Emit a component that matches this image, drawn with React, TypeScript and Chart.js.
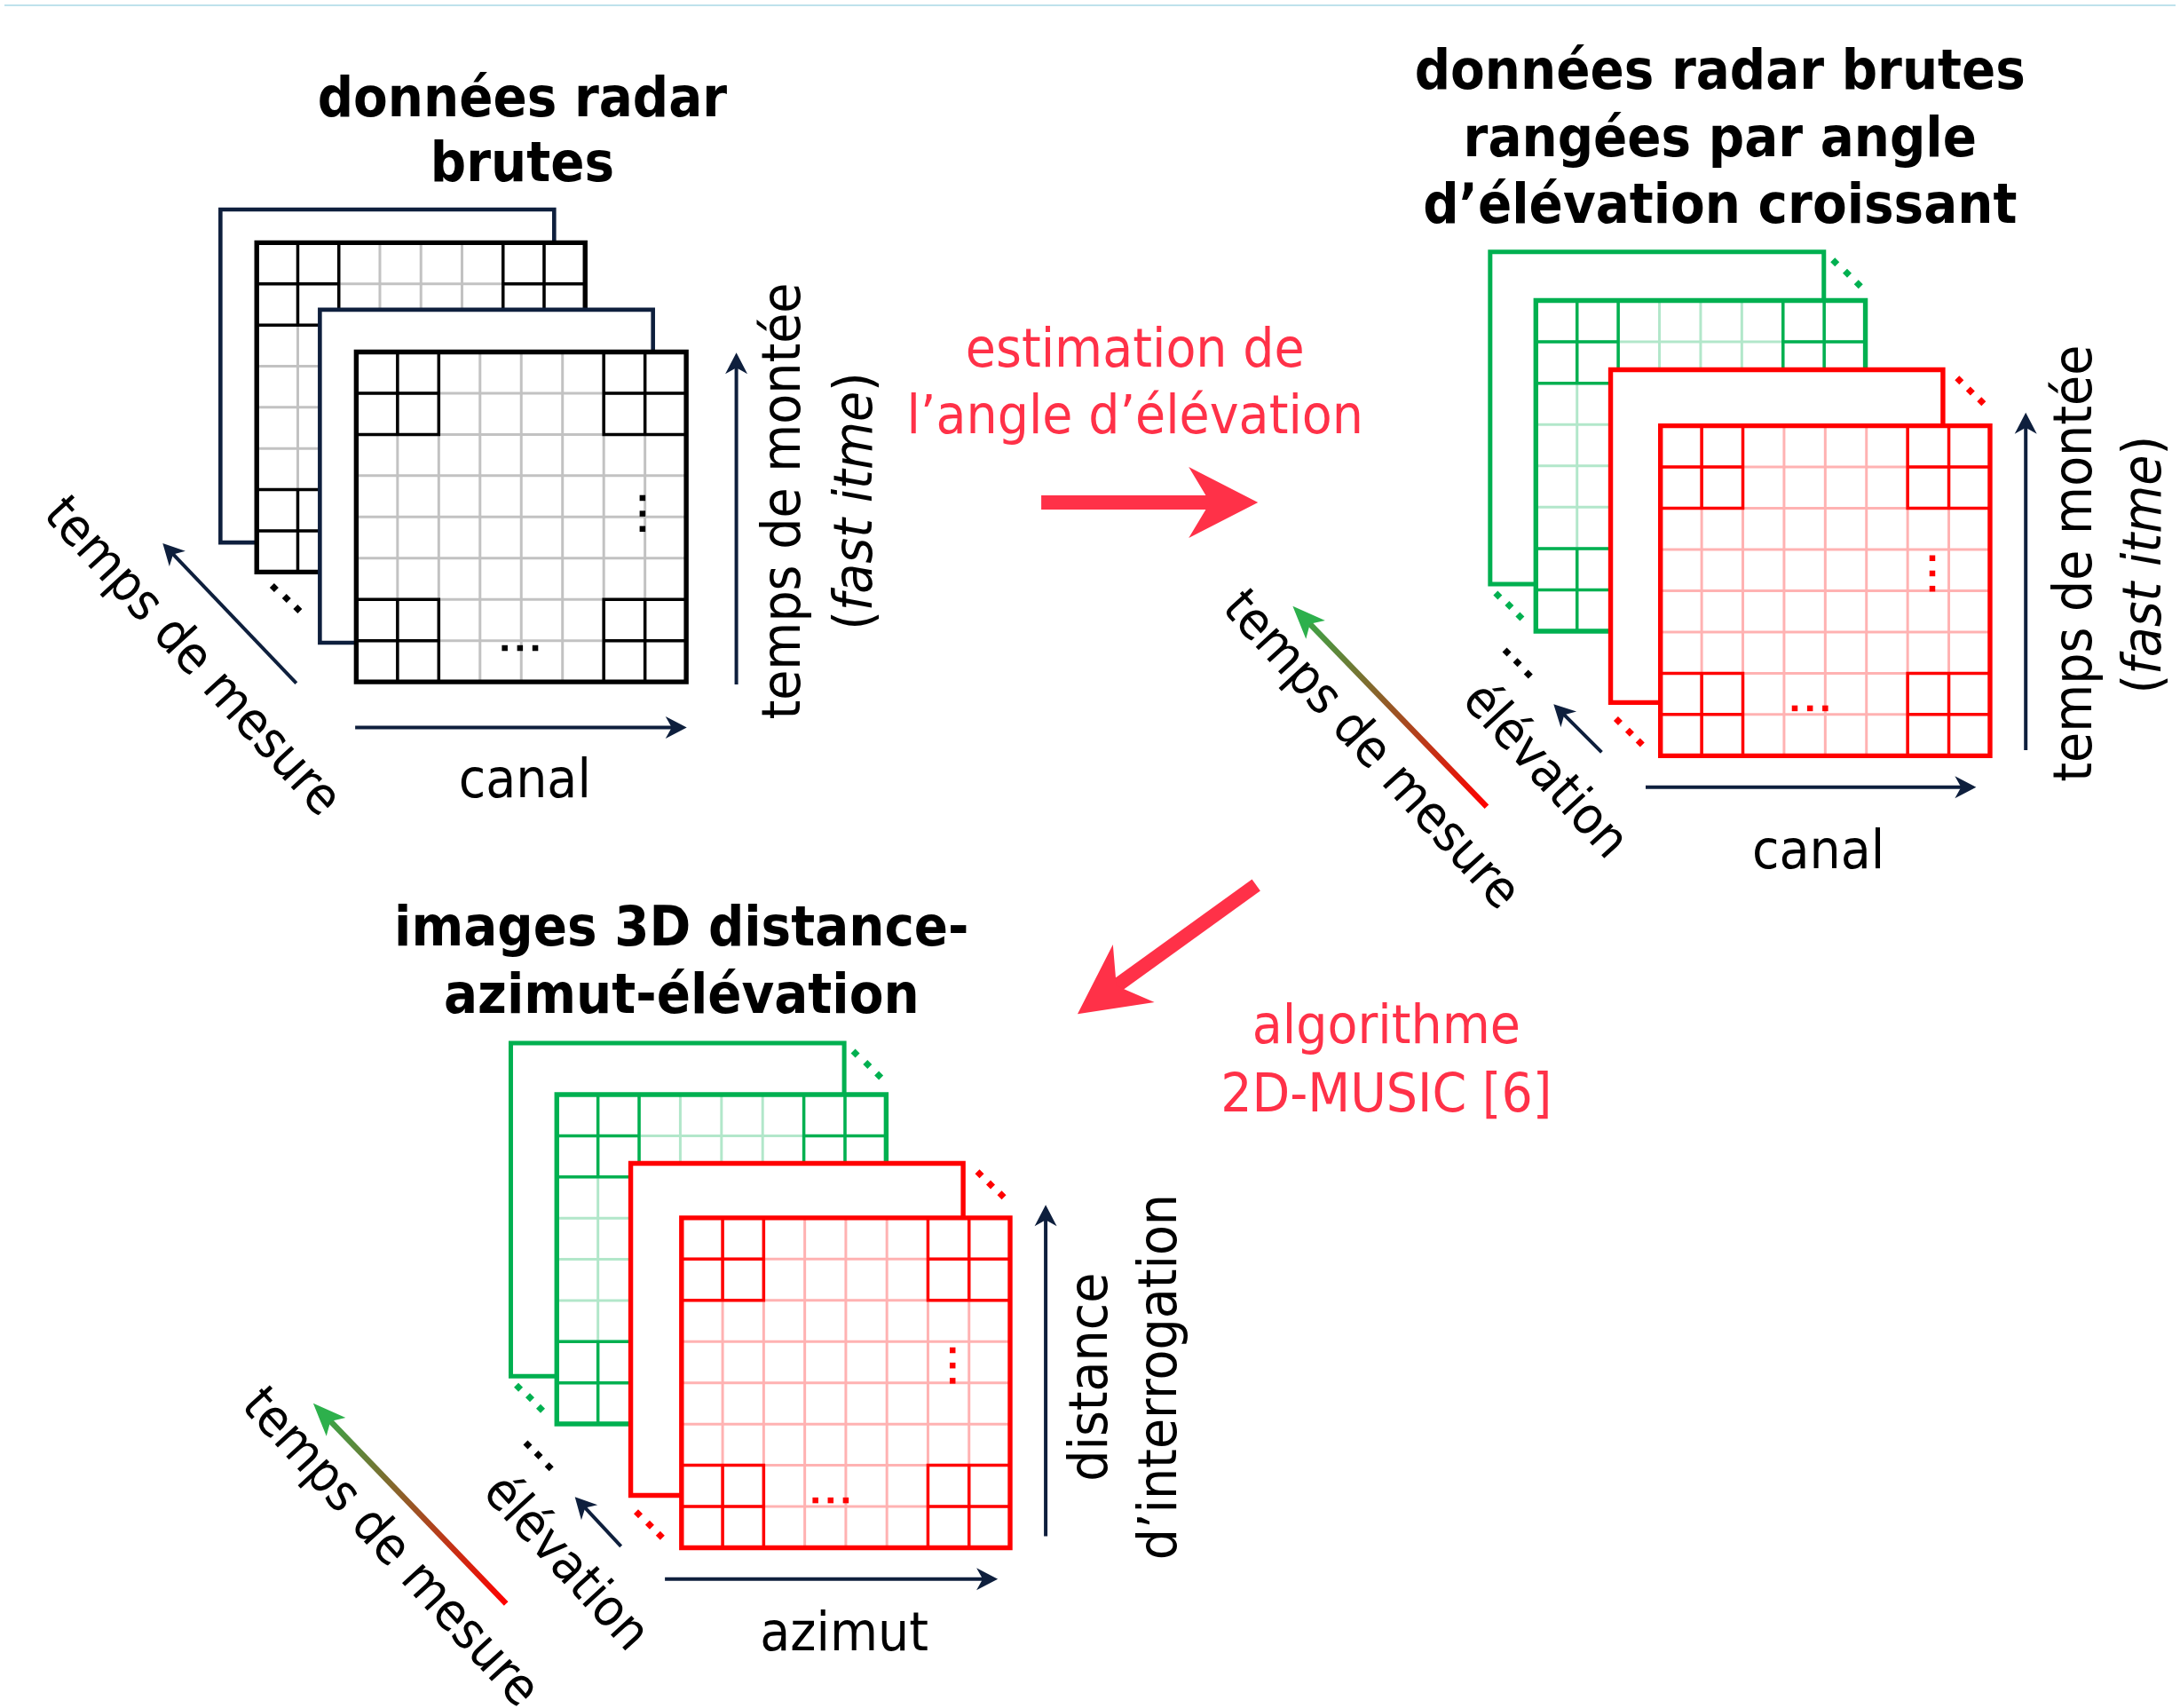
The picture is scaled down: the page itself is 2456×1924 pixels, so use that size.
import React, { useEffect, useRef } from "react";
import { Chart, registerables } from "chart.js";

Chart.register(...registerables);

// ---------------- diagram content (data) ----------------
const gridColumns = 8;
const gridRows = 8;
const cornerBlocks = [[0, 0], [6, 0], [0, 6], [6, 6]]; // highlighted 2x2 blocks (col,row)
const cornerBlockSpan = 2;

const titleRaw = ["données radar", "brutes"];
const titleSorted = ["données radar brutes", "rangées par angle", "d’élévation croissant"];
const titleImages = ["images 3D distance-", "azimut-élévation"];
const stepEstimation = ["estimation de", "l’angle d’élévation"];
const stepMusic = ["algorithme", "2D-MUSIC [6]"];
const axisChannel = "canal";
const axisAzimuth = "azimut";
const axisRise = "temps de montée";
const axisFastTime = "fast itme";
const axisMeasure = "temps de mesure";
const axisElevation = "élévation";
const axisDistance = ["distance", "d’interrogation"];

// ---------------- layout / styles ----------------
const CANVAS_W = 2456;
const CANVAS_H = 1924;
const VIEW_W = 1568;
const VIEW_H = 1228;
const FONT = '"DejaVu Sans", Verdana, sans-serif';
const HS = 0.91; // horizontal condensation (Tahoma-like)

const COL = {
  navy: "#0e1f3d",
  black: "#000000",
  gray: "#c2c2c2",
  green: "#00b050",
  greenLight: "rgba(0,176,80,0.3)",
  red: "#ff0000",
  redLight: "rgba(255,0,0,0.3)",
  accent: "#ff3148",
  arrowGreen: "#2db04c",
  topLine: "#bfe2ec",
};

type Rect = [number, number, number, number];
interface LayerSpec { kind: "frame" | "grid"; rect: Rect; color: string; light?: string; width?: number }
interface DotSpec { layer: number; corner?: "tr" | "bl"; offsets?: number[][]; cells?: number[][]; color: string; diamond: boolean }
interface StackSpec { layers: LayerSpec[]; dots: DotSpec[] }

const greenTR = [[8, 7.5], [16.8, 15.5], [25, 23.4]];
const greenBL = [[5.5, 8], [13.8, 15.4], [21.5, 23.4]];
const redTR = [[11.8, 7.5], [19.8, 15.4], [27.8, 23]];
const redBL = [[5.4, 13.3], [13.7, 21.4], [21.3, 29]];
const blackBL = [[-21, 15], [-13.3, 22.5], [-5.5, 31]];
const vDots = [[6.6, 3.21], [6.6, 3.58], [6.6, 3.95]];
const hDots = [[3.26, 6.85], [3.63, 6.85], [4.0, 6.85]];

const stacks: StackSpec[] = [
  {
    layers: [
      { kind: "frame", rect: [156, 148.2, 397, 388.9], color: COL.navy, width: 4.6 },
      { kind: "grid", rect: [182.2, 172.2, 419.4, 410.2], color: COL.black, light: COL.gray },
      { kind: "frame", rect: [227.8, 220.6, 468.4, 461.3], color: COL.navy, width: 4.6 },
      { kind: "grid", rect: [254.1, 251.2, 492.4, 489.6], color: COL.black, light: COL.gray },
    ],
    dots: [
      { layer: 3, cells: [[6.94, 3.54], [6.94, 3.92], [6.94, 4.29]], color: COL.black, diamond: false },
      { layer: 3, cells: [[3.6, 7.18], [3.97, 7.18], [4.34, 7.18]], color: COL.black, diamond: false },
      { layer: 1, corner: "bl", offsets: [[12.6, 11.3], [21.5, 19.1], [29.6, 26.8]], color: COL.black, diamond: true },
    ],
  },
  {
    layers: [
      { kind: "frame", rect: [1073, 178.8, 1314, 419], color: COL.green, width: 5 },
      { kind: "grid", rect: [1106, 214, 1344, 453], color: COL.green, light: COL.greenLight },
      { kind: "frame", rect: [1160, 264, 1400, 504.5], color: COL.red, width: 5.4 },
      { kind: "grid", rect: [1196, 304.5, 1434, 543], color: COL.red, light: COL.redLight },
    ],
    dots: [
      { layer: 0, corner: "tr", offsets: greenTR, color: COL.green, diamond: true },
      { layer: 0, corner: "bl", offsets: greenBL, color: COL.green, diamond: true },
      { layer: 2, corner: "tr", offsets: redTR, color: COL.red, diamond: true },
      { layer: 2, corner: "bl", offsets: redBL, color: COL.red, diamond: true },
      { layer: 1, corner: "bl", offsets: blackBL, color: COL.black, diamond: true },
      { layer: 3, cells: vDots, color: COL.red, diamond: false },
      { layer: 3, cells: hDots, color: COL.red, diamond: false },
    ],
  },
  {
    layers: [
      { kind: "frame", rect: [365.7, 750.6, 606.5, 991.4], color: COL.green, width: 5 },
      { kind: "grid", rect: [398.9, 787.9, 636.8, 1025.9], color: COL.green, light: COL.greenLight },
      { kind: "frame", rect: [452.3, 837.6, 692.4, 1077.5], color: COL.red, width: 5.4 },
      { kind: "grid", rect: [489, 877, 726.3, 1115.4], color: COL.red, light: COL.redLight },
    ],
    dots: [
      { layer: 0, corner: "tr", offsets: greenTR, color: COL.green, diamond: true },
      { layer: 0, corner: "bl", offsets: greenBL, color: COL.green, diamond: true },
      { layer: 2, corner: "tr", offsets: redTR, color: COL.red, diamond: true },
      { layer: 2, corner: "bl", offsets: redBL, color: COL.red, diamond: true },
      { layer: 1, corner: "bl", offsets: blackBL, color: COL.black, diamond: true },
      { layer: 3, cells: vDots, color: COL.red, diamond: false },
      { layer: 3, cells: hDots, color: COL.red, diamond: false },
    ],
  },
];

type P = [number, number];
interface ArrowSpec { from: P; to: P; width: number; color: string; tailColor?: string; head: [number, number, number] }
const navyHead: [number, number, number] = [24, 12.5, 7];
const gradHead: [number, number, number] = [37, 15, 9];
const bigHead: [number, number, number] = [78, 40, 24];

const arrows: ArrowSpec[] = [
  { from: [253.3, 522.5], to: [492.8, 522.5], width: 4, color: COL.navy, head: navyHead },
  { from: [528.6, 491.5], to: [528.6, 251.6], width: 4, color: COL.navy, head: navyHead },
  { from: [210.8, 490.6], to: [114.3, 389.5], width: 4, color: COL.navy, head: navyHead },
  { from: [1185.3, 565.8], to: [1424, 565.8], width: 4, color: COL.navy, head: navyHead },
  { from: [1459.8, 539], to: [1459.8, 295], width: 4, color: COL.navy, head: navyHead },
  { from: [1153.5, 540.5], to: [1118.8, 505.8], width: 4, color: COL.navy, head: navyHead },
  { from: [477, 1138], to: [717.4, 1138], width: 4, color: COL.navy, head: navyHead },
  { from: [752, 1107], to: [752, 867.6], width: 4, color: COL.navy, head: navyHead },
  { from: [445.3, 1114.3], to: [412, 1078.6], width: 4, color: COL.navy, head: navyHead },
  { from: [1070.5, 579.9], to: [930.4, 434.8], width: 6.5, color: COL.arrowGreen, tailColor: COL.red, head: gradHead },
  { from: [362.3, 1155.8], to: [223, 1011], width: 6.5, color: COL.arrowGreen, tailColor: COL.red, head: gradHead },
  { from: [748.8, 360], to: [905.3, 360], width: 16, color: COL.accent, head: bigHead },
  { from: [904, 636.5], to: [775, 729.6], width: 16, color: COL.accent, head: bigHead },
];

interface TextPart { t: string; italic?: boolean }
interface TextSpec { parts: TextPart[]; x: number; y: number; size: number; bold?: boolean; color: string; angle?: number; baseline?: CanvasTextBaseline }

const stackLines = (lines: string[], x: number, ys: number[], size: number, bold: boolean, color: string): TextSpec[] =>
  lines.map((t, i) => ({ parts: [{ t }], x, y: ys[i], size, bold, color }));

const DIAG = 47.5;
const texts: TextSpec[] = [
  ...stackLines(titleRaw, 374, [80.6, 127.7], 62, true, COL.black),
  ...stackLines(titleSorted, 1239, [61.2, 109.5, 158], 62, true, COL.black),
  ...stackLines(titleImages, 489, [680, 728.8], 62, true, COL.black),
  ...stackLines(stepEstimation, 816.5, [261.8, 310], 61, false, COL.accent),
  ...stackLines(stepMusic, 998, [750.8, 799.8], 61, false, COL.accent),
  { parts: [{ t: axisChannel }], x: 375.8, y: 572.8, size: 61, color: COL.black },
  { parts: [{ t: axisChannel }], x: 1310, y: 624.5, size: 61, color: COL.black },
  { parts: [{ t: axisAzimuth }], x: 606.5, y: 1189.7, size: 61, color: COL.black },
  { parts: [{ t: axisRise }], x: 564, y: 359, size: 61, color: COL.black, angle: -90, baseline: "middle" },
  { parts: [{ t: "(" }, { t: axisFastTime, italic: true }, { t: ")" }], x: 616, y: 359, size: 61, color: COL.black, angle: -90, baseline: "middle" },
  { parts: [{ t: axisRise }], x: 1497, y: 404, size: 61, color: COL.black, angle: -90, baseline: "middle" },
  { parts: [{ t: "(" }, { t: axisFastTime, italic: true }, { t: ")" }], x: 1547, y: 405, size: 61, color: COL.black, angle: -90, baseline: "middle" },
  { parts: [{ t: axisDistance[0] }], x: 786, y: 992, size: 61, color: COL.black, angle: -90, baseline: "middle" },
  { parts: [{ t: axisDistance[1] }], x: 836, y: 992, size: 61, color: COL.black, angle: -90, baseline: "middle" },
  { parts: [{ t: axisMeasure }], x: 134.6, y: 472.5, size: 58, color: COL.black, angle: DIAG, baseline: "middle" },
  { parts: [{ t: axisMeasure }], x: 986, y: 540, size: 58, color: COL.black, angle: DIAG, baseline: "middle" },
  { parts: [{ t: axisElevation }], x: 1111.6, y: 555, size: 58, color: COL.black, angle: DIAG, baseline: "middle" },
  { parts: [{ t: axisMeasure }], x: 277.6, y: 1116.3, size: 58, color: COL.black, angle: DIAG, baseline: "middle" },
  { parts: [{ t: axisElevation }], x: 404.5, y: 1127.5, size: 58, color: COL.black, angle: DIAG, baseline: "middle" },
];

const LIGHT_W = 3;
const BOLD_W = 3.5;
const BORDER_W = 5.4;

// ---------------- dataset construction ----------------
type Pt = { x: number; y: number | null };

function lineDataset(data: Pt[], color: string, width: number, extra: any = {}) {
  return {
    type: "line",
    data,
    borderColor: color,
    borderWidth: width,
    borderJoinStyle: "miter",
    borderCapStyle: "butt",
    pointRadius: 0,
    pointHoverRadius: 0,
    pointHitRadius: 0,
    tension: 0,
    fill: false,
    spanGaps: false,
    clip: false,
    ...extra,
  };
}

function buildDatasets() {
  const ds: any[] = [];
  ds.push(lineDataset([{ x: 0, y: 0.6 }, { x: VIEW_W, y: 0.6 }], COL.topLine, 2));
  stacks.forEach((stack) => {
    stack.layers.forEach((layer) => {
      const [l, t, r, b] = layer.rect;
      const box: Pt[] = [{ x: l, y: t }, { x: r, y: t }, { x: r, y: b }, { x: l, y: b }, { x: l, y: t }];
      if (layer.kind === "frame") {
        ds.push(lineDataset(box, layer.color, layer.width || 5, { panelRect: layer.rect, borderCapStyle: "square" }));
        return;
      }
      const cw = (r - l) / gridColumns;
      const ch = (b - t) / gridRows;
      const light: Pt[] = [];
      for (let i = 1; i < gridColumns; i++) {
        const x = l + i * cw;
        light.push({ x, y: t }, { x, y: b }, { x, y: null });
      }
      for (let j = 1; j < gridRows; j++) {
        const y = t + j * ch;
        light.push({ x: l, y }, { x: r, y }, { x: r, y: null });
      }
      ds.push(lineDataset(light, layer.light || COL.gray, LIGHT_W, { panelRect: layer.rect }));
      const bold: Pt[] = [];
      cornerBlocks.forEach(([c0, r0]) => {
        for (let k = 0; k <= cornerBlockSpan; k++) {
          const x = l + (c0 + k) * cw;
          bold.push({ x, y: t + r0 * ch }, { x, y: t + (r0 + cornerBlockSpan) * ch }, { x, y: null });
          const y = t + (r0 + k) * ch;
          bold.push({ x: l + c0 * cw, y }, { x: l + (c0 + cornerBlockSpan) * cw, y }, { x: l, y: null });
        }
      });
      ds.push(lineDataset(bold, layer.color, BOLD_W, { borderCapStyle: "square" }));
      ds.push(lineDataset(box, layer.color, BORDER_W, { borderCapStyle: "square" }));
    });
  });
  // ellipsis dots on top
  stacks.forEach((stack) => {
    stack.dots.forEach((d) => {
      const [l, t, r, b] = stack.layers[d.layer].rect;
      let pts: Pt[] = [];
      if (d.cells) {
        const cw = (r - l) / gridColumns;
        const ch = (b - t) / gridRows;
        pts = d.cells.map(([c, rr]) => ({ x: l + c * cw, y: t + rr * ch }));
      } else if (d.offsets) {
        const ax = d.corner === "tr" ? r : l;
        const ay = d.corner === "tr" ? t : b;
        pts = d.offsets.map(([dx, dy]) => ({ x: ax + dx, y: ay + dy }));
      }
      ds.push({
        type: "line",
        data: pts,
        showLine: false,
        pointStyle: d.diamond ? "rectRot" : "rect",
        pointRadius: d.diamond ? 5 : 4.6,
        pointHoverRadius: 0,
        pointBackgroundColor: d.color,
        pointBorderWidth: 0,
        pointBorderColor: d.color,
        clip: false,
      });
    });
  });
  ds.forEach((d, i) => (d.order = ds.length - i));
  return ds;
}

// ---------------- plugins ----------------
const panelFillPlugin = {
  id: "panelFill",
  beforeDatasetDraw(chart: any, args: any) {
    const d = chart.data.datasets[args.index];
    if (!d || !d.panelRect) return;
    const [l, t, r, b] = d.panelRect;
    const xs = chart.scales.x;
    const ys = chart.scales.y;
    const x0 = xs.getPixelForValue(l);
    const x1 = xs.getPixelForValue(r);
    const y0 = ys.getPixelForValue(t);
    const y1 = ys.getPixelForValue(b);
    const ctx = chart.ctx;
    ctx.save();
    ctx.fillStyle = "#ffffff";
    ctx.fillRect(Math.min(x0, x1), Math.min(y0, y1), Math.abs(x1 - x0), Math.abs(y1 - y0));
    ctx.restore();
  },
};

function drawArrow(chart: any, a: ArrowSpec) {
  const ctx: CanvasRenderingContext2D = chart.ctx;
  const xs = chart.scales.x;
  const ys = chart.scales.y;
  const x0 = xs.getPixelForValue(a.from[0]);
  const y0 = ys.getPixelForValue(a.from[1]);
  const x1 = xs.getPixelForValue(a.to[0]);
  const y1 = ys.getPixelForValue(a.to[1]);
  const dx = x1 - x0;
  const dy = y1 - y0;
  const L = Math.hypot(dx, dy);
  const ux = dx / L;
  const uy = dy / L;
  const nx = -uy;
  const ny = ux;
  const [hl, hw, notch] = a.head;
  const bx = x1 - ux * hl;
  const by = y1 - uy * hl;
  const mx = x1 - ux * (hl - notch);
  const my = y1 - uy * (hl - notch);
  ctx.save();
  let stroke: any = a.color;
  if (a.tailColor) {
    const g = ctx.createLinearGradient(x0, y0, x1, y1);
    g.addColorStop(0, a.tailColor);
    g.addColorStop(1, a.color);
    stroke = g;
  }
  ctx.strokeStyle = stroke;
  ctx.lineWidth = a.width;
  ctx.lineCap = "butt";
  ctx.beginPath();
  ctx.moveTo(x0, y0);
  ctx.lineTo(mx + ux * 2, my + uy * 2);
  ctx.stroke();
  ctx.fillStyle = a.color;
  ctx.beginPath();
  ctx.moveTo(x1, y1);
  ctx.lineTo(bx + nx * hw, by + ny * hw);
  ctx.lineTo(mx, my);
  ctx.lineTo(bx - nx * hw, by - ny * hw);
  ctx.closePath();
  ctx.fill();
  ctx.restore();
}

function fontFor(size: number, bold?: boolean, italic?: boolean) {
  return `${italic ? "italic " : ""}${bold ? "bold " : ""}${size}px ${FONT}`;
}

function drawText(chart: any, s: TextSpec) {
  const ctx: CanvasRenderingContext2D = chart.ctx;
  const x = chart.scales.x.getPixelForValue(s.x);
  const y = chart.scales.y.getPixelForValue(s.y);
  ctx.save();
  ctx.translate(x, y);
  ctx.rotate(((s.angle || 0) * Math.PI) / 180);
  ctx.scale(HS, 1);
  ctx.fillStyle = s.color;
  ctx.textBaseline = s.baseline || "alphabetic";
  ctx.textAlign = "left";
  const widths = s.parts.map((p) => {
    ctx.font = fontFor(s.size, s.bold, p.italic);
    return ctx.measureText(p.t).width;
  });
  const total = widths.reduce((a, b) => a + b, 0);
  let cx = -total / 2;
  s.parts.forEach((p, i) => {
    ctx.font = fontFor(s.size, s.bold, p.italic);
    ctx.fillText(p.t, cx, 0);
    cx += widths[i];
  });
  ctx.restore();
}

const annotationPlugin = {
  id: "diagramAnnotations",
  afterDatasetsDraw(chart: any) {
    arrows.forEach((a) => drawArrow(chart, a));
    texts.forEach((t) => drawText(chart, t));
  },
};

// ---------------- component ----------------
export default function App() {
  const canvasRef = useRef<HTMLCanvasElement | null>(null);

  useEffect(() => {
    document.body.style.margin = "0";
    document.body.style.background = "#ffffff";
    const canvas = canvasRef.current;
    if (!canvas) return;
    const chart = new Chart(canvas, {
      type: "line",
      data: { datasets: buildDatasets() as any },
      options: {
        responsive: false,
        maintainAspectRatio: false,
        devicePixelRatio: 1,
        animation: false,
        events: [],
        layout: { padding: 0 },
        scales: {
          x: { type: "linear", min: 0, max: VIEW_W, display: false },
          y: { type: "linear", min: 0, max: VIEW_H, reverse: true, display: false },
        },
        plugins: { legend: { display: false }, tooltip: { enabled: false } },
      } as any,
      plugins: [panelFillPlugin, annotationPlugin],
    });
    return () => chart.destroy();
  }, []);

  return (
    <div style={{ width: CANVAS_W, height: CANVAS_H, background: "#ffffff" }}>
      <canvas
        ref={canvasRef}
        width={CANVAS_W}
        height={CANVAS_H}
        style={{ display: "block", width: CANVAS_W, height: CANVAS_H }}
      />
    </div>
  );
}
